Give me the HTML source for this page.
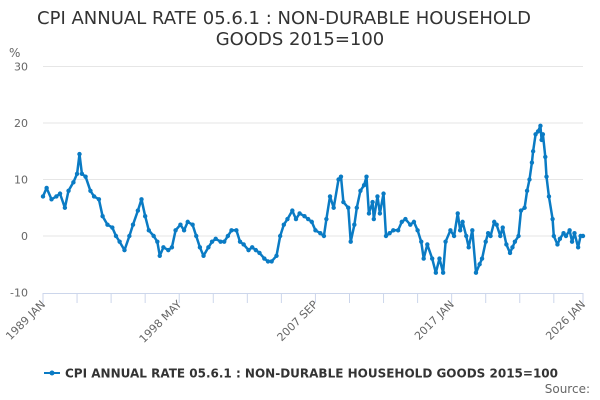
<!DOCTYPE html>
<html><head><meta charset="utf-8"><style>
body{margin:0;background:#fff;font-family:"DejaVu Sans","Liberation Sans",sans-serif}
svg{display:block;font-family:"DejaVu Sans","Liberation Sans",sans-serif}
</style></head><body>
<svg id="chart" width="600" height="400">
<text x="284" y="24" text-anchor="middle" font-size="18" fill="#333">CPI ANNUAL RATE 05.6.1 : NON-DURABLE HOUSEHOLD</text>
<text x="300" y="45" text-anchor="middle" font-size="18" fill="#333">GOODS 2015=100</text>
<text x="9" y="57" font-size="12" fill="#666">%</text>
<g id="grid"></g><g id="xaxis"></g><g id="series"></g>
<g>
<line x1="44" y1="373" x2="60" y2="373" stroke="#0a7bc4" stroke-width="2"/>
<circle cx="52" cy="373" r="2.5" fill="#0a7bc4"/>
<text x="65" y="377.5" font-size="12" font-weight="bold" fill="#333">CPI ANNUAL RATE 05.6.1 : NON-DURABLE HOUSEHOLD GOODS 2015=100</text>
</g>
<text x="590" y="393" text-anchor="end" font-size="12" fill="#666">Source:</text>
</svg>
<script>
const monthIdx=[0,3,7,11,14,18,21,25,28,30,32,35,39,42,46,49,53,57,60,63,67,71,74,78,81,84,87,91,94,96,99,103,106,109,113,116,119,123,126,129,132,136,139,142,146,149,152,155,159,162,165,169,172,175,178,182,185,188,192,195,198,201,205,208,211,215,218,221,224,228,231,233,236,239,243,245,247,251,253,256,258,261,264,266,268,271,272,275,277,280,282,285,288,292,295,298,302,305,308,311,313,316,320,323,326,329,331,335,338,341,343,345,348,350,353,356,359,361,364,366,368,371,373,376,378,381,384,386,388,391,393,396,398,400,402,403,405,407,409,410,411,413,414,416,419,420,423,425,428,430,433,435,437,440,442,444];
const rates=[7,8.5,6.5,7,7.5,5,8,9.5,11,14.5,11,10.5,8,7,6.5,3.5,2,1.5,0,-1,-2.5,0,2,4.5,6.5,3.5,1,0,-1,-3.5,-2,-2.5,-2,1,2,1,2.5,2,0,-2,-3.5,-2,-1,-0.5,-1,-1,0,1,1,-1,-1.5,-2.5,-2,-2.5,-3,-4,-4.5,-4.5,-3.5,0,2,3,4.5,3,4,3.5,3,2.5,1,0.5,0,3,7,5,10,10.5,6,5,-1,2,5,8,9,10.5,4,6,3,7,4,7.5,0,0.5,1,1,2.5,3,2,2.5,1,-1,-4,-1.5,-4,-6.5,-4,-6.5,-1,1,0,4,1,2.5,0,-2,1,-6.5,-5,-4,-1,0.5,0,2.5,2,0,1.5,-1.5,-3,-2,-1,0,4.5,5,8,10,13,15,18,18.5,19.5,17,18,14,10.5,7,3,0,-1.5,-0.5,0.5,0,1,-1,0.5,-2,0,0];
const yTicks=[-10,0,10,20,30];
const xLabels=["1989 JAN","1998 MAY","2007 SEP","2017 JAN","2026 JAN"];
const xLabelMonths=[0,112,224,336,444];
const NS="http://www.w3.org/2000/svg";
const X0=43,X1=583,M0=0,M1=444,Y0=236,PX=5.65;
const xs=m=>X0+(m-M0)/(M1-M0)*(X1-X0);
const ys=v=>Y0-v*PX;
function mk(t,a,p){const e=document.createElementNS(NS,t);for(const k in a)e.setAttribute(k,a[k]);p.appendChild(e);return e;}
const grid=document.getElementById('grid');
yTicks.forEach(v=>{
 if(v>-10){const l=mk('line',{x1:X0,x2:X1,y1:ys(v),y2:ys(v),stroke:'#e6e6e6','stroke-width':1},grid);
 
 }
 const t=mk('text',{x:28,y:ys(v)+4,'text-anchor':'end','font-size':11,fill:'#666'},grid);t.textContent=v;
 
 
});
const xa=document.getElementById('xaxis');
const ax=mk('line',{x1:X0,x2:X1,y1:293.5,y2:293.5,stroke:'#ccd6eb','stroke-width':1},xa);


const tm=[];for(let m=0;m<=420;m+=28)tm.push(m);tm.push(444);
tm.forEach(m=>{const t=mk('line',{x1:xs(m),x2:xs(m),y1:293,y2:303,stroke:'#ccd6eb','stroke-width':1},xa);
 
 });
xLabels.forEach((s,i)=>{const x=xs(xLabelMonths[i]);
 const t=mk('text',{x:x+3,y:305,'text-anchor':'end','font-size':11,fill:'#666',transform:`rotate(-45 ${x+3} 305)`},xa);t.textContent=s;
 
 });
const sg=document.getElementById('series');
const pts=monthIdx.map((m,i)=>xs(m).toFixed(1)+','+ys(rates[i]).toFixed(1)).join(' ');
const pl=mk('polyline',{points:pts,fill:'none',stroke:'#0a7bc4','stroke-width':2.5,'stroke-linejoin':'round'},sg);


monthIdx.forEach((m,i)=>{const c=mk('circle',{cx:xs(m),cy:ys(rates[i]),r:2.2,fill:'#0a7bc4'},sg);
 
 });
</script>
</body></html>
